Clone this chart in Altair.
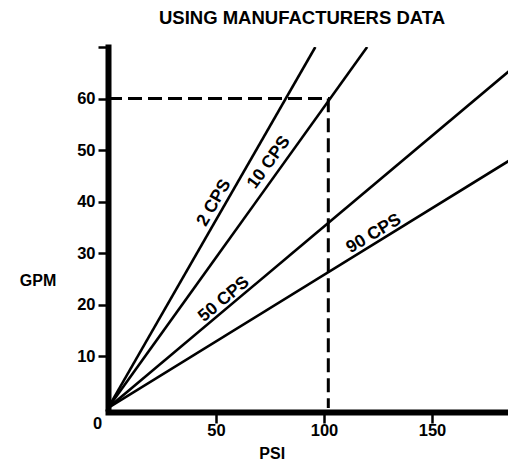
import altair as alt
import pandas as pd

# ---- data ----
series = ["2 CPS", "10 CPS", "50 CPS", "90 CPS"]
end_psi = [96, 120, 189, 189]
end_gpm = [70, 70, 66.5, 48.8]

label_psi = [49.1, 74.5, 53.7, 123.1]
label_gpm = [39.8, 47.6, 21.1, 33.8]
label_angle = [300, 306, 320, 329]

guide_psi = [0, 102, 102]
guide_gpm = [60, 60, 0]

x_ticks = [50, 100, 150]
y_ticks = [10, 20, 30, 40, 50, 60, 70]

# ---- tables ----
rows = []
for s, xe, ye in zip(series, end_psi, end_gpm):
    rows.append({"series": s, "pt": 0, "psi": 0, "gpm": 0})
    rows.append({"series": s, "pt": 1, "psi": xe, "gpm": ye})
lines_df = pd.DataFrame(rows)

labels_df = pd.DataFrame({"text": series, "psi": label_psi, "gpm": label_gpm, "angle": label_angle})
guide_df = pd.DataFrame({"pt": [0, 1, 2], "psi": guide_psi, "gpm": guide_gpm})
zero_df = pd.DataFrame({"psi": [0], "gpm": [0], "text": ["0"]})

FONT = "Liberation Sans"
x_scale = alt.Scale(domain=[0, 185.2], nice=False, zero=False)
y_scale = alt.Scale(domain=[0, 70], nice=False)

x_axis = alt.Axis(
    values=x_ticks, grid=False, offset=4,
    domainWidth=6, domainColor="black", domainCap="square",
    tickSize=11, tickWidth=2.5, tickColor="black",
    labelFont=FONT, labelFontSize=16.5, labelFontWeight="bold", labelColor="black",
    labelPadding=-1,
    title="PSI", titleFont=FONT, titleFontSize=16, titleFontWeight="bold", titleColor="black",
    titleX=163.7, titleY=41, titleAlign="center", titleBaseline="middle",
)
y_axis = alt.Axis(
    values=y_ticks, grid=False,
    labelExpr="datum.value == 70 ? '' : datum.label",
    domainWidth=6, domainColor="black", domainCap="square",
    tickSize=10, tickWidth=2.5, tickColor="black",
    labelFont=FONT, labelFontSize=16.5, labelFontWeight="bold", labelColor="black",
    labelPadding=3,
    title="GPM", titleFont=FONT, titleFontSize=16, titleFontWeight="bold", titleColor="black",
    titleAngle=0, titleX=-70.5, titleY=233, titleAlign="center", titleBaseline="middle",
)

lines = alt.Chart(lines_df).mark_line(color="black", strokeWidth=2.6, clip=True).encode(
    x=alt.X("psi:Q", scale=x_scale, axis=x_axis),
    y=alt.Y("gpm:Q", scale=y_scale, axis=y_axis),
    detail="series:N",
    order="pt:O",
)

guide = alt.Chart(guide_df).mark_line(color="black", strokeWidth=3, strokeDash=[14, 6]).encode(
    x=alt.X("psi:Q", scale=x_scale),
    y=alt.Y("gpm:Q", scale=y_scale),
    order="pt:O",
)

labels = alt.Chart(labels_df).mark_text(
    font=FONT, fontSize=17.5, fontWeight="bold", color="black", align="center", baseline="middle"
).encode(
    x=alt.X("psi:Q", scale=x_scale),
    y=alt.Y("gpm:Q", scale=y_scale),
    text="text:N",
    angle=alt.Angle("angle:Q", scale=None),
)

zero = alt.Chart(zero_df).mark_text(
    font=FONT, fontSize=16.5, fontWeight="bold", color="black", align="center", baseline="middle",
    dx=-10.5, dy=16,
).encode(
    x=alt.X("psi:Q", scale=x_scale),
    y=alt.Y("gpm:Q", scale=y_scale),
    text="text:N",
)

chart = alt.layer(guide, lines, labels, zero).properties(
    width=400, height=361,
    title=alt.TitleParams(
        "USING MANUFACTURERS DATA", font=FONT, fontSize=18.5, fontWeight="bold",
        color="black", anchor="middle", dx=-6, offset=18.5,
    ),
    autosize=alt.AutoSizeParams(type="none"),
    padding={"left": 100, "top": 39, "right": 0, "bottom": 52},
).configure_view(stroke=None)

chart.save("out.html", embed_options={"renderer": "svg", "actions": False})
